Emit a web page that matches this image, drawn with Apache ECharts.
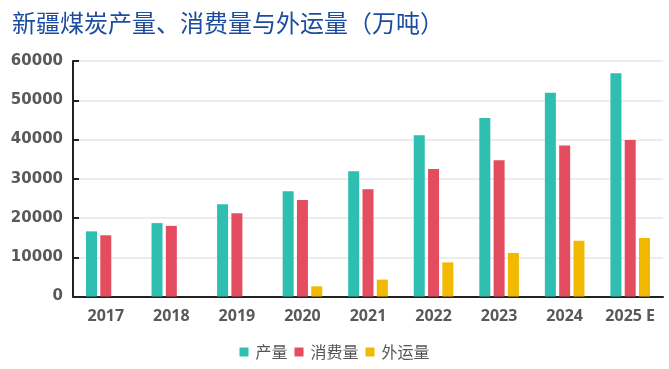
<!DOCTYPE html>
<html>
<head>
<meta charset="utf-8">
<script src="https://cdn.jsdelivr.net/npm/echarts@6/dist/echarts.min.js"></script>
<style>html,body{margin:0;padding:0;background:#fff}#c{width:669px;height:369px}</style>
</head>
<body>
<div id="c"></div>
<script>
const categories = ['2017','2018','2019','2020','2021','2022','2023','2024','2025 E'];
const production = [16600, 18700, 23500, 26800, 31900, 41100, 45500, 51900, 56900];
const consumption = [15600, 18000, 21200, 24600, 27300, 32500, 34700, 38500, 39900];
const exportOut = [null, null, null, 2600, 4300, 8700, 11100, 14200, 14900];
const seriesNames = ['产量', '消费量', '外运量'];
const yTicks = { min: 0, max: 60000, interval: 10000 };

const chart = echarts.init(document.getElementById('c'), null, {renderer: 'canvas'});
const colors = ['#2EBFB1', '#E44D5F', '#F1BA00'];
chart.setOption({
  animation: false,
  title: {
    text: '新疆煤炭产量、消费量与外运量（万吨）',
    left: 7, top: 6,
    textStyle: { fontFamily: 'Noto Sans CJK SC', fontSize: 24, fontWeight: 'normal', color: '#1B4C9E' }
  },
  legend: {
    bottom: 4, left: 'center',
    itemWidth: 9, itemHeight: 9, itemGap: 7,
    icon: 'rect',
    textStyle: { fontFamily: 'Noto Sans CJK SC', fontSize: 16, color: '#555', padding: [0,0,0,2] },
    data: seriesNames
  },
  grid: { left: 73, right: 6, top: 61, bottom: 72.5, containLabel: false },
  xAxis: {
    type: 'category', data: categories,
    axisLine: { lineStyle: { color: '#222', width: 2 } },
    axisTick: { inside: true, length: 6, lineStyle: { color: '#222', width: 2 } },
    axisLabel: { margin: 12, fontFamily: 'Open Sans', fontWeight: 'bold', fontSize: 16, color: '#595959' }
  },
  yAxis: {
    type: 'value', min: yTicks.min, max: yTicks.max, interval: yTicks.interval,
    axisLine: { show: true, lineStyle: { color: '#222', width: 2 } },
    axisTick: { show: true, inside: true, length: 6, lineStyle: { color: '#222', width: 2 } },
    splitLine: { lineStyle: { color: '#e6e6e6', width: 1.5 } },
    axisLabel: { margin: 10, fontFamily: 'DejaVu Sans', fontWeight: 'bold', fontSize: 15, color: '#595959',
      formatter: v => String(v) }
  },
  series: [
    { name: seriesNames[0], type: 'bar', data: production, barWidth: 11, barGap: '30%', itemStyle: { color: colors[0] } },
    { name: seriesNames[1], type: 'bar', data: consumption, barWidth: 11, barGap: '30%', itemStyle: { color: colors[1] } },
    { name: seriesNames[2], type: 'bar', data: exportOut, barWidth: 11, barGap: '30%', itemStyle: { color: colors[2] } }
  ]
});
</script>
</body>
</html>
